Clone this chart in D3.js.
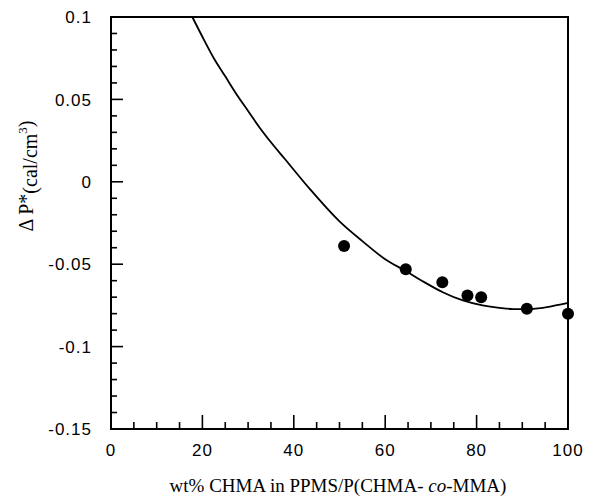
<!DOCTYPE html>
<html><head><meta charset="utf-8">
<script src="https://cdn.jsdelivr.net/npm/d3@7"></script>
<style>body{margin:0;background:#fff;} svg{display:block;}</style>
</head><body>
<svg id="c" width="590" height="499"></svg>
<script>
// Data points (wt% CHMA, ΔP* cal/cm3)
const pointX = [51, 64.5, 72.5, 78, 81, 91, 100];
const pointY = [-0.039, -0.053, -0.061, -0.069, -0.070, -0.077, -0.080];
// Fitted curve
const curveX = [17.8, 20, 22.5, 25, 27.5, 30, 32.5, 35, 38, 43.4, 50, 55, 60, 64.4, 68, 72.6, 77, 81.3, 85, 88, 91, 94, 97, 100];
const curveY = [0.100, 0.088, 0.075, 0.064, 0.053, 0.043, 0.033, 0.024, 0.014, -0.004, -0.024, -0.036, -0.047, -0.054, -0.060, -0.067, -0.072, -0.075, -0.0765, -0.0772, -0.0772, -0.0766, -0.0752, -0.0735];
const xTicks = [0, 20, 40, 60, 80, 100];
const yTicks = [0.1, 0.05, 0, -0.05, -0.1, -0.15];
const yTickLabels = ["0.1", "0.05", "0", "-0.05", "-0.1", "-0.15"];

const svg = d3.select("#c");
const L = 111, R = 568, T = 17, B = 429;
const x = d3.scaleLinear().domain([0, 100]).range([L, R]);
const y = d3.scaleLinear().domain([-0.15, 0.1]).range([B, T]);

// frame
svg.append("rect").attr("x", L).attr("y", T).attr("width", R - L).attr("height", B - T)
  .attr("fill", "none").attr("stroke", "#000").attr("stroke-width", 2);

// x ticks (inward)
const xMinor = d3.range(0, 101, 5);
svg.append("g").selectAll("line").data(xMinor).join("line")
  .attr("x1", d => x(d)).attr("x2", d => x(d))
  .attr("y1", B).attr("y2", d => B - (d % 20 === 0 ? 14 : 7))
  .attr("stroke", "#000").attr("stroke-width", 1.6);
svg.append("g").selectAll("text").data(xTicks).join("text")
  .attr("x", d => x(d)).attr("y", 456)
  .attr("text-anchor", "middle")
  .attr("font-family", "Liberation Sans, Arial, sans-serif").attr("font-size", 17)
  .attr("letter-spacing", 1)
  .text(d => d);

// y ticks (inward)
const yMinor = d3.range(-15, 11, 1).map(v => v / 100);
svg.append("g").selectAll("line").data(yMinor).join("line")
  .attr("x1", L).attr("x2", (d, i) => L + ((i % 5 === 0) ? 12 : 6))
  .attr("y1", d => y(d)).attr("y2", d => y(d))
  .attr("stroke", "#000").attr("stroke-width", 1.6);
svg.append("g").selectAll("text").data(yTicks).join("text")
  .attr("x", 92).attr("y", d => y(d)).attr("dy", "0.36em")
  .attr("text-anchor", "end")
  .attr("font-family", "Liberation Sans, Arial, sans-serif").attr("font-size", 17)
  .attr("letter-spacing", 1)
  .text((d, i) => yTickLabels[i]);

// curve
const line = d3.line().x((d, i) => x(curveX[i])).y((d, i) => y(curveY[i])).curve(d3.curveMonotoneX);
svg.append("path").datum(curveX).attr("d", line)
  .attr("fill", "none").attr("stroke", "#000").attr("stroke-width", 1.8);

// points
svg.append("g").selectAll("circle").data(pointX).join("circle")
  .attr("cx", d => x(d)).attr("cy", (d, i) => y(pointY[i])).attr("r", 6)
  .attr("fill", "#000");

// x title
const xt = svg.append("text").attr("x", 338).attr("y", 492).attr("text-anchor", "middle")
  .attr("font-family", "Liberation Serif, Times New Roman, serif").attr("font-size", 19);
xt.append("tspan").text("wt% CHMA in PPMS/P(CHMA- ");
xt.append("tspan").attr("font-style", "italic").text("co");
xt.append("tspan").text("-MMA)");

// y title
const yt = svg.append("text").attr("transform", "translate(33,176) rotate(-90)")
  .attr("text-anchor", "middle")
  .attr("font-family", "Liberation Serif, Times New Roman, serif").attr("font-size", 20);
yt.append("tspan").text("Δ P*");
yt.append("tspan").attr("dy", 4).text("(cal/cm");
yt.append("tspan").attr("dy", -10).attr("font-size", 13).text("3");
yt.append("tspan").attr("dy", 6).text(")");
</script>
</body></html>
